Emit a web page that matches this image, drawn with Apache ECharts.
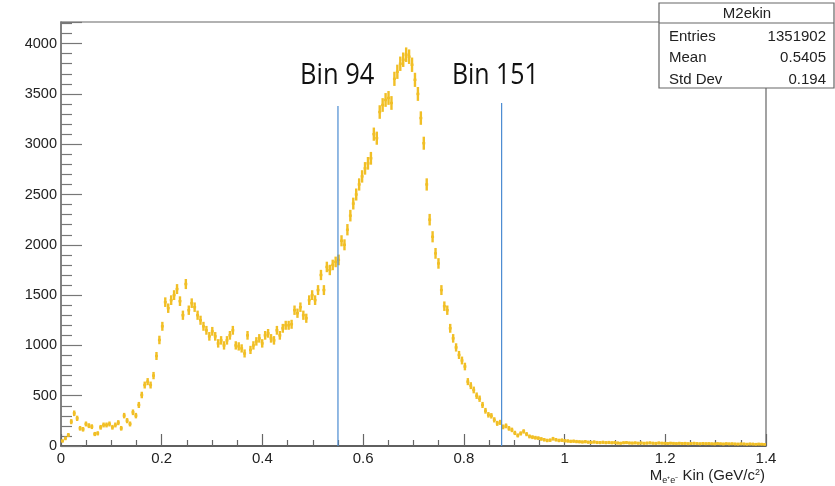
<!DOCTYPE html>
<html>
<head>
<meta charset="utf-8">
<script src="https://cdn.jsdelivr.net/npm/echarts@6/dist/echarts.min.js"></script>
<style>
  html, body { margin: 0; padding: 0; background: #fff; }
  #chart { width: 835px; height: 486px; }
</style>
</head>
<body>
<div id="chart"></div>
<script>
// histogram binning (ROOT TH1: 240 bins over 0..1.4)
const binLow = 0;
const binHigh = 1.4;
const binCount = 240;

// bin contents
const counts = [
  50, 76, 109, 242, 325, 275, 176, 166, 219, 202,
  192, 119, 126, 186, 209, 209, 219, 186, 209, 232,
  176, 302, 252, 219, 335, 302, 408, 507, 606, 640,
  606, 700, 895, 1054, 1190, 1430, 1370, 1450, 1500, 1560,
  1440, 1300, 1610, 1350, 1420, 1380, 1300, 1250, 1190, 1150,
  1090, 1140, 1090, 1020, 1050, 1000, 1050, 1100, 1150, 1000,
  990, 970, 920, 1100, 955, 1000, 1040, 1070, 1020, 1100,
  1120, 1070, 1050, 1150, 1100, 1170, 1200, 1200, 1210, 1350,
  1320, 1380, 1300, 1270, 1450, 1500, 1450, 1550, 1700, 1550,
  1780, 1750, 1800, 1830, 1850, 2040, 2000, 2150, 2290, 2410,
  2500, 2600, 2680, 2760, 2810, 2860, 3100, 3060, 3320, 3390,
  3440, 3460, 3410, 3650, 3720, 3800, 3840, 3890, 3870, 3790,
  3640, 3500, 3260, 3010, 2600, 2250, 2080, 1915, 1815, 1550,
  1390, 1350, 1170, 1070, 980, 905, 850, 790, 640, 600,
  557, 500, 470, 408, 350, 310, 300, 260, 225, 235,
  190, 200, 175, 160, 130, 105, 125, 145, 118, 95,
  88, 82, 78, 70, 62, 55, 58, 72, 62, 55,
  58, 52, 50, 46, 48, 44, 42, 40, 43, 38,
  36, 40, 35, 34, 37, 33, 35, 32, 34, 30,
  28, 32, 34, 30, 29, 31, 28, 30, 27, 29,
  31, 28, 26, 30, 28, 27, 25, 28, 26, 24,
  27, 25, 26, 23, 25, 27, 24, 22, 25, 23,
  24, 22, 21, 24, 22, 20, 23, 21, 22, 20,
  19, 21, 20, 18, 20, 19, 17, 19, 18, 16
];

// cut lines drawn on top of the histogram
const cutX = [0.55, 0.875];
const cutTop = [3380, 3410];
const cutLabels = ['Bin 94', 'Bin 151'];

// stats box
const statsTitle = 'M2ekin';
const statsNames = ['Entries', 'Mean', 'Std Dev'];
const statsValues = ['1351902', '0.5405', '0.194'];

const binWidth = (binHigh - binLow) / binCount;
const histColor = '#f1bf26';
const font = '"Liberation Sans", Arial, Helvetica, sans-serif';

const histData = counts.map((c, i) => [binLow + (i + 0.5) * binWidth, c, Math.sqrt(c)]);

const chart = echarts.init(document.getElementById('chart'));

// 误差棒
const renderErrorBar = (params, api) => {
  const x = api.value(0);
  const y = api.value(1);
  const e = api.value(2);
  const mid = api.coord([x, y]);
  const top = api.coord([x, y + e]);
  const bot = api.coord([x, Math.max(0, y - e)]);
  const half = api.size([binWidth, 0])[0] / 2;
  const style = { stroke: histColor, lineWidth: 2.4 };
  return {
    type: 'group',
    children: [
      { type: 'line', shape: { x1: mid[0], y1: top[1] - 1, x2: mid[0], y2: bot[1] + 1 }, style },
      { type: 'line', shape: { x1: mid[0] - half, y1: mid[1], x2: mid[0] + half, y2: mid[1] }, style },
    ],
  };
};

const cutSeries = cutX.map((x, i) => ({
  name: cutLabels[i],
  type: 'line',
  data: [[x, 0], [x, cutTop[i]]],
  symbol: 'none',
  z: 5,
  lineStyle: { color: '#4a8bd1', width: 1.2 },
}));

const statsGraphic = [
  { type: 'rect', shape: { x: 659, y: 3, width: 175, height: 85 }, style: { fill: '#fff', stroke: '#666', lineWidth: 1.2 }, z: 100 },
  { type: 'line', shape: { x1: 659, y1: 23, x2: 834, y2: 23 }, style: { stroke: '#666', lineWidth: 1.2 }, z: 101 },
  { type: 'text', x: 747, y: 14, z: 101, style: { text: statsTitle, font: `15px ${font}`, fill: '#222', align: 'center', verticalAlign: 'middle' } },
];
statsNames.forEach((name, i) => {
  const y = 36.5 + i * 21.5;
  statsGraphic.push(
    { type: 'text', x: 669, y, z: 101, style: { text: name, font: `15px ${font}`, fill: '#222', align: 'left', verticalAlign: 'middle' } },
    { type: 'text', x: 826, y, z: 101, style: { text: statsValues[i], font: `15px ${font}`, fill: '#222', align: 'right', verticalAlign: 'middle' } },
  );
});

const labelGraphic = [
  { type: 'text', x: 300, y: 75, scaleX: 0.85, z: 50, style: { text: cutLabels[0], font: '30px "Open Sans", sans-serif', fill: '#111', align: 'left', verticalAlign: 'middle' } },
  { type: 'text', x: 452, y: 75, scaleX: 0.83, z: 50, style: { text: cutLabels[1], font: '30px "Open Sans", sans-serif', fill: '#111', align: 'left', verticalAlign: 'middle' } },
];

const axisTitle = {
  type: 'text', x: 765, y: 476, z: 50,
  style: {
    text: '{m|M}{sub|e⁺e⁻}{n| Kin (GeV/c}{sup|2}{n|)}',
    align: 'right',
    verticalAlign: 'middle',
    rich: {
      m: { font: `15px ${font}`, fill: '#222', lineHeight: 22, verticalAlign: 'middle' },
      n: { font: `15px ${font}`, fill: '#222', lineHeight: 22, verticalAlign: 'middle' },
      sub: { font: `9px ${font}`, fill: '#222', lineHeight: 22, verticalAlign: 'bottom', padding: [0, 0, 2, 0] },
      sup: { font: `9px ${font}`, fill: '#222', lineHeight: 22, verticalAlign: 'top', padding: [3, 0, 0, 0] },
    },
  },
};

const option = {
  animation: false,
  backgroundColor: '#fff',
  grid: {
    left: 61, right: 69, top: 22, bottom: 40,
    show: true, borderColor: '#666', borderWidth: 1.2, backgroundColor: 'transparent',
  },
  xAxis: {
    type: 'value',
    min: 0,
    max: 1.4,
    interval: 0.2,
    axisLine: { onZero: false, lineStyle: { color: '#444', width: 1.5 } },
    axisTick: { inside: true, length: 12, lineStyle: { color: '#666', width: 1.2 } },
    minorTick: { show: true, splitNumber: 4, length: 6, lineStyle: { color: '#666', width: 1.2 } },
    splitLine: { show: false },
    axisLabel: { margin: 5, color: '#222', fontSize: 15, fontFamily: font },
  },
  yAxis: {
    type: 'value',
    min: 0,
    max: 4215,
    interval: 500,
    axisLine: { show: true, lineStyle: { color: '#777', width: 1.5 } },
    axisTick: { inside: true, length: 21, lineStyle: { color: '#777', width: 1.2 } },
    minorTick: { show: true, splitNumber: 5, length: 11, lineStyle: { color: '#777', width: 1.2 } },
    splitLine: { show: false },
    axisLabel: {
      margin: 4, color: '#222', fontSize: 14.5, fontFamily: font, showMaxLabel: false,
      formatter: (v) => String(v),
    },
  },
  series: [
    {
      name: 'M2ekin',
      type: 'custom',
      renderItem: renderErrorBar,
      encode: { x: 0, y: 1 },
      data: histData,
      clip: true,
      z: 2,
    },
    ...cutSeries,
  ],
  graphic: [...labelGraphic, axisTitle, ...statsGraphic],
};

chart.setOption(option);
</script>
</body>
</html>
